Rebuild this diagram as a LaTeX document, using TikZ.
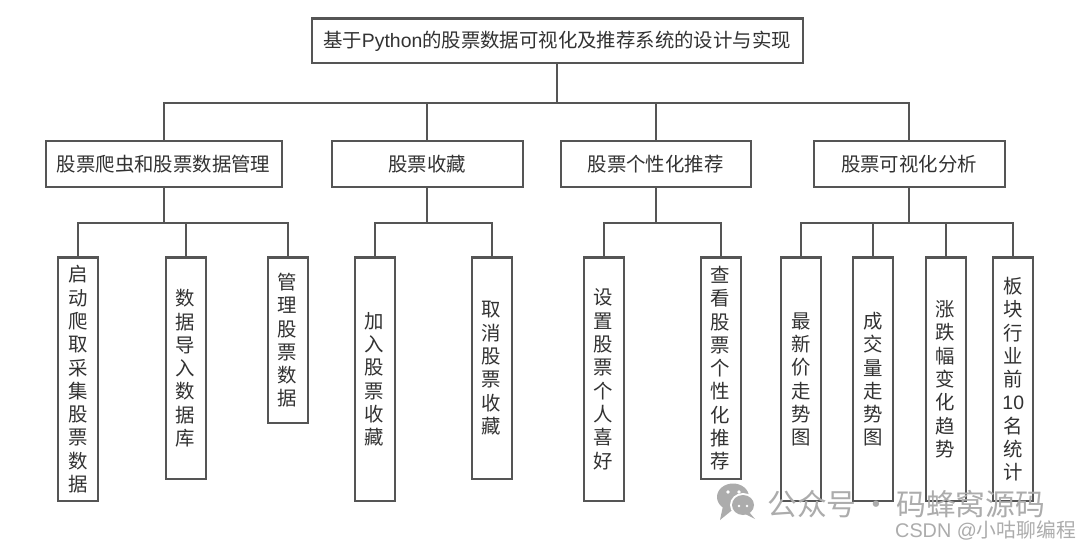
\documentclass[tikz,border=0pt]{standalone}
\usepackage{fontspec}
\setmainfont{Noto Sans CJK SC}
\newfontfamily\latinsans{Liberation Sans}
\definecolor{ink}{RGB}{85,85,85}
\definecolor{txt}{RGB}{50,50,50}
\definecolor{wmgray}{RGB}{172,172,172}
\tikzset{
  box/.style={draw=ink,line width=2.1pt,fill=white,inner sep=0pt,align=center,text=txt,anchor=north west,font=\fontsize{19.4}{23.3}\selectfont},
  link/.style={draw=ink,line width=2.1pt},
  wm/.style={text=wmgray,inner sep=0pt,anchor=west}
}
\newcommand{\boxat}[6]{% name, x0, y0, x1, y1, text
  \pgfmathsetmacro{\bw}{#4-#2}\pgfmathsetmacro{\bh}{#5-#3}
  \node[box,minimum width=\bw pt,minimum height=\bh pt] (#1) at (#2,#3) {#6};}
\begin{document}
\begin{tikzpicture}[x=1pt,y=-1pt]
\useasboundingbox[fill=white] (0,0) rectangle (1080,548);
\boxat{root}{310.5}{17.5}{801.5}{62}{基于{\latinsans Python}的股票数据可视化及推荐系统的设计与实现}
\boxat{a}{44.5}{140}{280.5}{186}{股票爬虫和股票数据管理}
\boxat{b}{330.5}{140}{521.5}{186}{股票收藏}
\boxat{c}{559.5}{140}{749.5}{186}{股票个性化推荐}
\boxat{d}{812.5}{140}{1003.5}{186}{股票可视化分析}
\boxat{a1}{56.5}{256.5}{97}{500}{启\\动\\爬\\取\\采\\集\\股\\票\\数\\据}
\boxat{a2}{164.5}{256.5}{204.5}{478}{数\\据\\导\\入\\数\\据\\库}
\boxat{a3}{266.5}{256.5}{306.5}{422}{管\\理\\股\\票\\数\\据}
\boxat{b1}{353.5}{256.5}{393.5}{500}{加\\入\\股\\票\\收\\藏}
\boxat{b2}{470.5}{256.5}{510.5}{478}{取\\消\\股\\票\\收\\藏}
\boxat{c1}{582.5}{256.5}{622.5}{500}{设\\置\\股\\票\\个\\人\\喜\\好}
\boxat{c2}{699.5}{256.5}{739.5}{478}{查\\看\\股\\票\\个\\性\\化\\推\\荐}
\boxat{d1}{779.5}{256.5}{820}{500}{最\\新\\价\\走\\势\\图}
\boxat{d2}{852.2}{256.5}{892.2}{500}{成\\交\\量\\走\\势\\图}
\boxat{d3}{924.5}{256.5}{964.5}{500}{涨\\跌\\幅\\变\\化\\趋\\势}
\boxat{d4}{992.2}{256.5}{1032.2}{500}{板\\块\\行\\业\\前\\{\latinsans 10}\\名\\统\\计}
\foreach \k in {a,b,c,d}
  \draw[link] (root.south) -- ++(0,38.7) -| (\k.north);
\foreach \k in {a1,a2,a3}
  \draw[link] (a.south) -- ++(0,35) -| (\k.north);
\foreach \k in {b1,b2}
  \draw[link] (b.south) -- ++(0,35) -| (\k.north);
\foreach \k in {c1,c2}
  \draw[link] (c.south) -- ++(0,35) -| (\k.north);
\foreach \k in {d1,d2,d3,d4}
  \draw[link] (d.south) -- ++(0,35) -| (\k.north);
% watermark
\fill[wmgray] (733,497) ellipse (16 and 13.5);
\fill[wmgray] (736,507) -- (720,520) -- (723,506) -- cycle;
\fill[white] (743,505) ellipse (13 and 12);
\fill[wmgray] (743,505) ellipse (11 and 10);
\fill[wmgray] (749,512) -- (755,519) -- (745,514) -- cycle;
\fill[white] (728,492) circle (1.8) (739,492) circle (1.8) (739,506) circle (1.4) (747,506) circle (1.4);
\node[wm,font=\fontsize{29.8}{30}\selectfont] (w1) at (767,504) {公众号\,·\,码蜂窝源码};
\node[wm,font=\fontsize{19.8}{20}\selectfont] (w2) at (895,530) {{\latinsans CSDN @}小咕聊编程};
\end{tikzpicture}
\end{document}
